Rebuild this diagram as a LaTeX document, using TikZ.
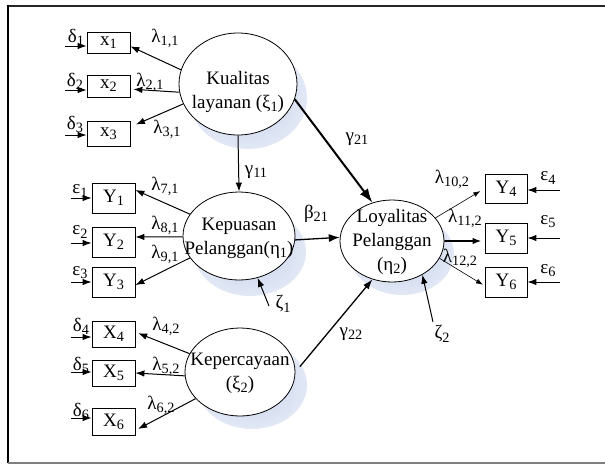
\documentclass[tikz,border=0pt]{standalone}
\usepackage{fontspec}
\setmainfont{Liberation Serif}
\usetikzlibrary{arrows.meta,shapes.geometric}
\definecolor{shad}{RGB}{196,208,234}
\definecolor{shadout}{RGB}{226,232,245}
\newcommand\lo[1]{\raisebox{-0.35ex}{\scalebox{0.75}{#1}}}
\begin{document}
\begin{tikzpicture}[x=1pt,y=-1pt,
  font=\fontsize{18}{22}\selectfont,
  lat/.style={ellipse, draw, line width=0.8pt, inner sep=0pt},
  shd/.style={ellipse, draw=none, inner sep=0pt, inner color=shad, outer color=shadout},
  ltxt/.style={align=center, inner sep=0pt, font=\fontsize{19}{24}\selectfont},
  obs/.style={draw, line width=0.8pt, minimum width=43pt, inner sep=0pt, fill=white, font=\fontsize{19}{22}\selectfont},
  lab/.style={inner sep=0pt, font=\fontsize{19}{22}\selectfont},
  arr/.style={-{Latex[length=9pt,width=6.5pt]}, line width=1pt},
  thinarr/.style={-{Latex[length=7pt,width=5pt]}, line width=0.6pt}
]
\useasboundingbox (0,0) rectangle (605,464);
% frame
\draw[line width=2pt, black!85] (8,6) -- (606,6);
\draw[line width=1.5pt] (8,5) -- (8,463);
\draw[line width=1.2pt, gray] (8,463) -- (606,463);

% shadows
\node[shd, minimum width=118pt, minimum height=102pt] (Ks) at (248,98) {};
\node[shd, minimum width=112pt, minimum height=88pt] (Ps) at (250,252) {};
\node[shd, minimum width=110pt, minimum height=88pt] (Cs) at (252,385) {};
\node[shd, minimum width=104pt, minimum height=82pt] (Ls) at (402,254) {};

% latent variables
\node[lat, fill=white, minimum width=118pt, minimum height=102pt] (K) at (238,84) {};
\node[ltxt] (Kt) at (238,92) {Kualitas\\layanan (ξ\lo{1})};
\node[lat, fill=white, minimum width=112pt, minimum height=88pt] (P) at (239,236) {};
\node[ltxt] (Pt) at (239,238) {Kepuasan\\Pelanggan(η\lo{1})};
\node[lat, fill=white, minimum width=110pt, minimum height=88pt] (C) at (240,372) {};
\node[ltxt] (Ct) at (240,373) {Kepercayaan\\(ξ\lo{2})};
\node[lat, fill=white, minimum width=104pt, minimum height=82pt] (L) at (392,241) {};
\node[ltxt] (Lt) at (392,242) {Loyalitas\\Pelanggan\\(η\lo{2})};

% observed variables
\node[obs, minimum height=21pt] (x1) at (108.5,42.5) {x\lo{1}};
\node[obs, minimum height=22pt] (x2) at (108.5,86) {x\lo{2}};
\node[obs, minimum height=25pt] (x3) at (108.5,134) {x\lo{3}};
\node[obs, minimum height=30pt] (Y1) at (113.5,198) {Y\lo{1}};
\node[obs, minimum height=30pt] (Y2) at (113.5,242) {Y\lo{2}};
\node[obs, minimum height=30pt] (Y3) at (113.5,282) {Y\lo{3}};
\node[obs, minimum height=26pt] (X4) at (113.5,334) {X\lo{4}};
\node[obs, minimum height=26pt] (X5) at (113.5,373) {X\lo{5}};
\node[obs, minimum height=27pt] (X6) at (113.5,421.5) {X\lo{6}};
\node[obs, minimum height=29pt, minimum width=42pt] (Y4) at (506,188.5) {Y\lo{4}};
\node[obs, minimum height=30pt, minimum width=42pt] (Y5) at (506,238) {Y\lo{5}};
\node[obs, minimum height=30pt, minimum width=42pt] (Y6) at (506,282) {Y\lo{6}};

% error terms
\coordinate (ed1) at (65,46);
\coordinate (ed2) at (65,90);
\coordinate (ed3) at (65,135);
\coordinate (ee1) at (71,198);
\coordinate (ee2) at (71,243);
\coordinate (ee3) at (71,282);
\coordinate (ed4) at (71,337);
\coordinate (ed5) at (71,372);
\coordinate (ed6) at (71,418);
\coordinate (ee4) at (560,190);
\coordinate (ee5) at (560,238);
\coordinate (ee6) at (560,282);
\foreach \e/\b in {ed1/x1,ed2/x2,ed3/x3,ee1/Y1,ee2/Y2,ee3/Y3,ed4/X4,ed5/X5,ed6/X6}
  \draw[arr] (\e) -- (\e -| \b.west);
\foreach \e/\b in {ee4/Y4,ee5/Y5,ee6/Y6}
  \draw[arr] (\e) -- (\e -| \b.east);

\node[lab] (ld1) at (76,37) {δ\lo{1}};
\node[lab] (ld2) at (75,81) {δ\lo{2}};
\node[lab] (ld3) at (75,124) {δ\lo{3}};
\node[lab] (le1) at (80,191) {ε\lo{1}};
\node[lab] (le2) at (80,232) {ε\lo{2}};
\node[lab] (le3) at (80,273) {ε\lo{3}};
\node[lab] (ld4) at (81,326) {δ\lo{4}};
\node[lab] (ld5) at (81,365) {δ\lo{5}};
\node[lab] (ld6) at (81,411) {δ\lo{6}};
\node[lab] (le4) at (548,178) {ε\lo{4}};
\node[lab] (le5) at (548,222) {ε\lo{5}};
\node[lab] (le6) at (548,271) {ε\lo{6}};

% loadings
\draw[arr] (K.166) -- (x1.-10);
\draw[arr, shorten >=3pt] (K.188) -- (x2.-8);
\draw[arr, shorten >=6pt] (K.200) -- (x3.18);
\draw[arr] (P.156) -- (Y1.20);
\draw[arr] (P.181) -- (Y2.13);
\draw[arr] (P.204) -- (Y3.-8);
\draw[arr, shorten >=3pt] (C.160) -- (X4.5);
\draw[arr] (C.184) -- (X5.east);
\draw[arr, shorten >=3pt] (C.211) -- (X6.-22);
\draw[thinarr, shorten >=5pt] (L.28) -- (Y4.west);
\draw[arr, line width=1.8pt, shorten >=3pt] (L.east) -- (Y5.188);
\draw[thinarr, shorten >=2pt] (L.-20) -- (Y6.190);

\node[lab] (l11) at (165,38) {λ\lo{1,1}};
\node[lab] (l21) at (150,82) {λ\lo{2,1}};
\node[lab] (l31) at (167,129) {λ\lo{3,1}};
\node[lab] (l71) at (165,186) {λ\lo{7,1}};
\node[lab] (l81) at (165,225) {λ\lo{8,1}};
\node[lab] (l91) at (165,254) {λ\lo{9,1}};
\node[lab] (l42) at (166,326) {λ\lo{4,2}};
\node[lab] (l52) at (166,366) {λ\lo{5,2}};
\node[lab] (l62) at (161,405) {λ\lo{6,2}};
\node[lab] (l102) at (452,179) {λ\lo{10,2}};
\node[lab] (l112) at (465,218) {λ\lo{11,2}};
\node[lab] (l122) at (460,258) {λ\lo{12,2}};

% structural paths
\draw[arr] (K.south) -- (P.north);
\draw[-{Latex[length=14pt,width=10pt]}, line width=2pt] (K.-15) -- (L.117);
\draw[-{Latex[length=11pt,width=8pt]}, line width=1.3pt] (P.-4) -- (L.176);
\draw[-{Latex[length=10pt,width=7pt]}, line width=1.3pt, shorten <=7pt] (C.east) -- (L.243);
\coordinate (z1) at (269,306);
\coordinate (z2) at (433,322);
\draw[arr] (z1) -- (P.-66);
\draw[arr] (z2) -- (L.-48);

\node[lab] (g11) at (256,172) {γ\lo{11}};
\node[lab] (g21) at (357,139) {γ\lo{21}};
\node[lab] (b21) at (316,214) {β\lo{21}};
\node[lab] (g22) at (351,334) {γ\lo{22}};
\node[lab] (lz1) at (283,304) {ζ\lo{1}};
\node[lab] (lz2) at (442,334) {ζ\lo{2}};
\end{tikzpicture}
\end{document}
